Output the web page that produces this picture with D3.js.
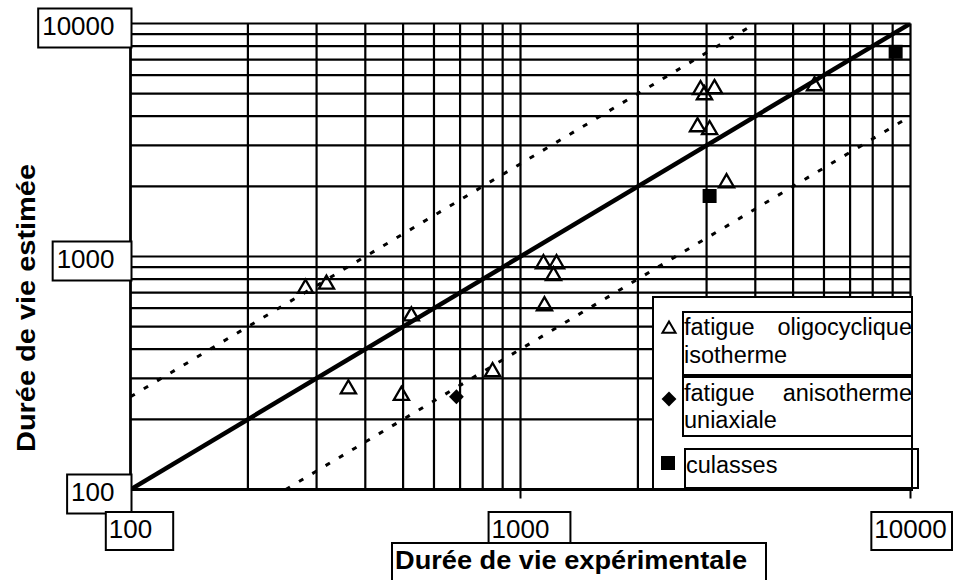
<!DOCTYPE html>
<html><head><meta charset="utf-8">
<script src="https://cdn.jsdelivr.net/npm/d3@7"></script>
<style>body{margin:0;background:#fff}svg{display:block}text{font-family:"Liberation Sans",Arial,sans-serif}</style>
</head><body>
<svg id="c" width="958" height="580"></svg>
<script>
// ---- data ----
const isoX = [281, 318, 525, 362, 495, 848, 1145, 1237, 1215, 1152, 2895, 3143, 2963, 2844, 3054, 3375, 5675];
const isoY = [730, 760, 555, 270, 253, 320, 930, 930, 827, 614, 5196, 5250, 4940, 3600, 3500, 2070, 5400];
const anisoX = [685];
const anisoY = [250];
const culX = [3054, 9160];
const culY = [1818, 7560];
const tickValues = [100, 1000, 10000];
const tickLabels = ["100", "1000", "10000"];
const gridValues = [100,200,300,400,500,600,700,800,900,1000,2000,3000,4000,5000,6000,7000,8000,9000,10000];
const scatterFactor = [2.5, 1/2.5];
const legendLabels = [["fatigue","oligocyclique","isotherme"],["fatigue","anisotherme","uniaxiale"],["culasses"]];
const xTitle = "Durée de vie expérimentale";
const yTitle = "Durée de vie estimée";

const svg = d3.select("#c");
const x = d3.scaleLog().domain([100, 10000]).range([130.5, 910.5]);
const y = d3.scaleLog().domain([100, 10000]).range([489.5, 23.5]);

// grid
const g = svg.append("g");
g.selectAll("line.v").data(gridValues).join("line")
  .attr("x1", d => x(d)).attr("x2", d => x(d)).attr("y1", y(10000)).attr("y2", y(100))
  .attr("stroke", "#000").attr("stroke-width", 2.2);
g.selectAll("line.h").data(gridValues).join("line")
  .attr("y1", d => y(d)).attr("y2", d => y(d)).attr("x1", x(100)).attr("x2", x(10000))
  .attr("stroke", "#000").attr("stroke-width", 2.2);

// clip
svg.append("clipPath").attr("id", "pc").append("rect")
  .attr("x", x(100)).attr("y", y(10000)).attr("width", x(10000) - x(100)).attr("height", y(100) - y(10000));

const lineGen = d3.line().x(d => x(d[0])).y(d => y(d[1]));
const plot = svg.append("g").attr("clip-path", "url(#pc)");
scatterFactor.forEach(f => {
  const pts = f > 1 ? [[100, 100 * f], [10000, 10000 * f]] : [[100 / f, 100], [10000, 10000 * f]];
  plot.append("path").datum(pts)
    .attr("d", lineGen).attr("fill", "none").attr("stroke", "#000")
    .attr("stroke-width", 3).attr("stroke-dasharray", "5,10.5");
});
plot.append("path").datum([[100, 100], [10000, 10000]]).attr("d", lineGen)
  .attr("fill", "none").attr("stroke", "#000").attr("stroke-width", 4.5);

// points
const tri = d3.symbol().type(d3.symbolTriangle).size(100);
const sq = d3.symbol().type(d3.symbolSquare).size(196);
const dia = d3.symbol().type(d3.symbolSquare).size(110);
svg.selectAll("path.iso").data(isoX.map((v, i) => [v, isoY[i]])).join("path")
  .attr("d", tri).attr("transform", d => `translate(${x(d[0])},${y(d[1])})`)
  .attr("fill", "none").attr("stroke", "#000").attr("stroke-width", 2.3);
svg.selectAll("path.an").data(anisoX.map((v, i) => [v, anisoY[i]])).join("path")
  .attr("d", dia).attr("transform", d => `translate(${x(d[0])},${y(d[1])}) rotate(45)`)
  .attr("fill", "#000");
svg.selectAll("path.cu").data(culX.map((v, i) => [v, culY[i]])).join("path")
  .attr("d", sq).attr("transform", d => `translate(${x(d[0])},${y(d[1])})`)
  .attr("fill", "#000");

// legend
const lg = svg.append("g");
lg.append("rect").attr("x", 653).attr("y", 297).attr("width", 259).attr("height", 193)
  .attr("fill", "#fff").attr("stroke", "#000").attr("stroke-width", 2);
const boxes = [[683, 312, 229, 63], [683, 377, 229, 59], [685, 449, 233, 39]];
boxes.forEach(b => lg.append("rect").attr("x", b[0]).attr("y", b[1]).attr("width", b[2]).attr("height", b[3])
  .attr("fill", "none").attr("stroke", "#000").attr("stroke-width", 2));
const lfs = 23.5;
lg.append("text").attr("x", 684).attr("y", 335).attr("font-size", lfs).text(legendLabels[0][0]);
lg.append("text").attr("x", 912).attr("y", 335).attr("font-size", lfs).attr("text-anchor", "end").text(legendLabels[0][1]);
lg.append("text").attr("x", 684).attr("y", 363).attr("font-size", lfs).text(legendLabels[0][2]);
lg.append("text").attr("x", 684).attr("y", 401).attr("font-size", lfs).text(legendLabels[1][0]);
lg.append("text").attr("x", 912).attr("y", 401).attr("font-size", lfs).attr("text-anchor", "end").text(legendLabels[1][1]);
lg.append("text").attr("x", 684).attr("y", 428).attr("font-size", lfs).text(legendLabels[1][2]);
lg.append("text").attr("x", 686).attr("y", 473).attr("font-size", lfs).text(legendLabels[2][0]);
lg.append("path").attr("d", d3.symbol().type(d3.symbolTriangle).size(75)).attr("transform", "translate(669,329)")
  .attr("fill", "none").attr("stroke", "#000").attr("stroke-width", 2);
lg.append("path").attr("d", dia).attr("transform", "translate(669,399) rotate(45)").attr("fill", "#000");
lg.append("path").attr("d", sq).attr("transform", "translate(668,463)").attr("fill", "#000");

// axes lines
svg.append("line").attr("x1", x(100)).attr("x2", x(10000)).attr("y1", y(100)).attr("y2", y(100))
  .attr("stroke", "#000").attr("stroke-width", 3);
svg.append("line").attr("x1", x(100)).attr("x2", x(100)).attr("y1", y(10000)).attr("y2", y(100))
  .attr("stroke", "#000").attr("stroke-width", 2.5);
// ticks
svg.selectAll("line.yt").data(tickValues).join("line")
  .attr("x1", x(100) - 9).attr("x2", x(100)).attr("y1", d => y(d)).attr("y2", d => y(d))
  .attr("stroke", "#000").attr("stroke-width", 2);
svg.selectAll("line.xt").data(tickValues).join("line")
  .attr("y1", y(100)).attr("y2", y(100) + 9).attr("x1", d => x(d)).attr("x2", d => x(d))
  .attr("stroke", "#000").attr("stroke-width", 2);

// tick labels in boxes
const tfs = 26;
tickValues.forEach((v, i) => {
  const gy = svg.append("g");
  const r = gy.append("rect");
  const t = gy.append("text").attr("font-size", tfs).text(tickLabels[i]);
  const w = t.node().getComputedTextLength();
  const right = x(100) + 1;
  const left = right - w - 21;
  r.attr("x", left).attr("y", y(v) - 15).attr("width", right - left).attr("height", 39)
    .attr("fill", "#fff").attr("stroke", "#000").attr("stroke-width", 2);
  t.attr("x", left + 4).attr("y", y(v) + 11);
  const gx = svg.append("g");
  const r2 = gx.append("rect");
  const t2 = gx.append("text").attr("font-size", tfs).text(tickLabels[i]);
  const w2 = t2.node().getComputedTextLength();
  const l2 = x(v) - w2 / 2 - 3;
  const r2r = Math.min(x(v) + w2 / 2 + 21, 952);
  r2.attr("x", l2).attr("y", 512).attr("width", r2r - l2).attr("height", 38)
    .attr("fill", "#fff").attr("stroke", "#000").attr("stroke-width", 2);
  t2.attr("x", l2 + 3).attr("y", 538);
});

// titles
svg.append("rect").attr("x", 392).attr("y", 543).attr("width", 374).attr("height", 50)
  .attr("fill", "#fff").attr("stroke", "#000").attr("stroke-width", 2);
svg.append("text").attr("x", 395).attr("y", 569).attr("font-size", 26).attr("font-weight", "bold")
  .attr("textLength", 352).attr("lengthAdjust", "spacingAndGlyphs").text(xTitle);
svg.append("text").attr("transform", "translate(35,308) rotate(-90)").attr("text-anchor", "middle")
  .attr("font-size", 26).attr("font-weight", "bold")
  .attr("textLength", 288).attr("lengthAdjust", "spacingAndGlyphs").text(yTitle);
</script>
</body></html>
